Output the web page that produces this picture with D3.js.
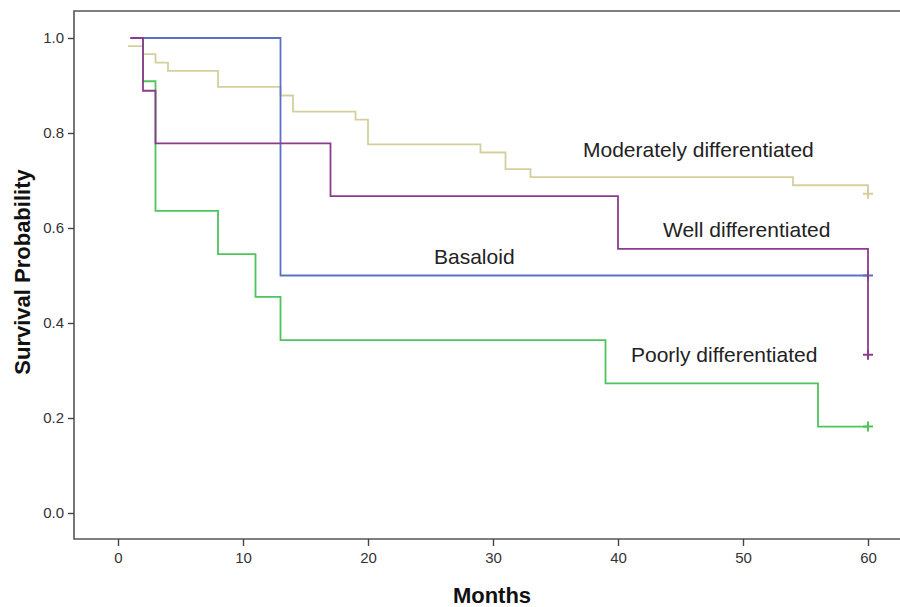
<!DOCTYPE html>
<html>
<head>
<meta charset="utf-8">
<script src="https://cdn.jsdelivr.net/npm/d3@7"></script>
<style>
  html, body { margin: 0; padding: 0; background: #fff; }
  svg { display: block; }
  text { font-family: "Liberation Sans", Arial, sans-serif; }
</style>
</head>
<body>
<svg id="chart" width="900" height="607"></svg>
<script>
// Kaplan–Meier survival estimates by histological grade (months of follow-up)
const groupNames = ["Moderately differentiated", "Poorly differentiated", "Well differentiated", "Basaloid"];

const basaloidTimes = [1, 13, 60];
const basaloidSurv  = [1.0, 0.5, 0.5];

const wellTimes = [1, 2, 3, 17, 40, 60];
const wellSurv  = [1.0, 0.889, 0.778, 0.667, 0.556, 0.333];

const moderateTimes = [0.8, 2, 3, 4, 8, 13, 14, 19, 20, 29, 31, 33, 54, 60];
const moderateSurv  = [0.983, 0.966, 0.948, 0.931, 0.897, 0.879, 0.845, 0.828, 0.776, 0.759, 0.724, 0.707, 0.690, 0.672];

const poorTimes = [1, 2, 3, 8, 11, 13, 39, 56, 60];
const poorSurv  = [1.0, 0.909, 0.636, 0.545, 0.455, 0.364, 0.273, 0.182, 0.182];

const xTicks = [0, 10, 20, 30, 40, 50, 60];
const yTicks = [0.0, 0.2, 0.4, 0.6, 0.8, 1.0];

const series = [
  { name: groupNames[0], times: moderateTimes, surv: moderateSurv, color: "#d5cf9c", label: [583, 157] },
  { name: groupNames[1], times: poorTimes,     surv: poorSurv,     color: "#4fc35e", label: [631, 362] },
  { name: groupNames[3], times: basaloidTimes, surv: basaloidSurv, color: "#5a72c6", label: [434, 264] },
  { name: groupNames[2], times: wellTimes,     surv: wellSurv,     color: "#8d3b8e", label: [663, 237] }
];

const svg = d3.select("#chart");

const x = d3.scaleLinear().domain([0, 60]).range([118, 868]);
const y = d3.scaleLinear().domain([0, 1]).range([513, 38]);

const frame = { left: 74, top: 11, bottom: 539, right: 902 };

// plot frame (left, top, bottom edges)
svg.append("path")
  .attr("d", `M${frame.right},${frame.top}H${frame.left}V${frame.bottom}H${frame.right}`)
  .attr("fill", "none")
  .attr("stroke", "#555")
  .attr("stroke-width", 1.6);

// axes
const yAxis = d3.axisLeft(y).tickValues(yTicks).tickFormat(d3.format(".1f")).tickSize(6).tickPadding(4);
const yG = svg.append("g").attr("transform", `translate(${frame.left},0)`).call(yAxis);
const xAxis = d3.axisBottom(x).tickValues(xTicks).tickFormat(d3.format("d")).tickSize(7).tickPadding(6);
const xG = svg.append("g").attr("transform", `translate(0,${frame.bottom})`).call(xAxis);

[yG, xG].forEach(g => {
  g.select(".domain").remove();
  g.selectAll(".tick line").attr("stroke", "#444").attr("stroke-width", 1.4);
  g.selectAll(".tick text")
    .attr("fill", "#333")
    .style("font-size", "15px")
    .style("font-family", "'Liberation Sans', Arial, sans-serif");
});

// axis titles
svg.append("text")
  .attr("x", 492).attr("y", 603)
  .attr("text-anchor", "middle")
  .style("font-size", "22px").style("font-weight", "bold").attr("fill", "#111")
  .text("Months");

svg.append("text")
  .attr("transform", "translate(30,272) rotate(-90)")
  .attr("text-anchor", "middle")
  .style("font-size", "22px").style("font-weight", "bold").attr("fill", "#111")
  .text("Survival Probability");

// survival step curves
const line = d3.line()
  .x(d => x(d[0]))
  .y(d => y(d[1]))
  .curve(d3.curveStepAfter);

series.forEach(s => {
  const pts = s.times.map((t, i) => [t, s.surv[i]]);
  svg.append("path")
    .attr("d", line(pts))
    .attr("fill", "none")
    .attr("stroke", s.color)
    .attr("stroke-width", 1.8);

  // censored observation at end of follow-up
  const last = pts[pts.length - 1];
  const cx = x(last[0]), cy = y(last[1]);
  svg.append("path")
    .attr("d", `M${cx - 5},${cy}H${cx + 5}M${cx},${cy - 5}V${cy + 5}`)
    .attr("stroke", s.color)
    .attr("stroke-width", 2);

  svg.append("text")
    .attr("x", s.label[0]).attr("y", s.label[1])
    .style("font-size", "21px").attr("fill", "#222")
    .text(s.name);
});
</script>
</body>
</html>
